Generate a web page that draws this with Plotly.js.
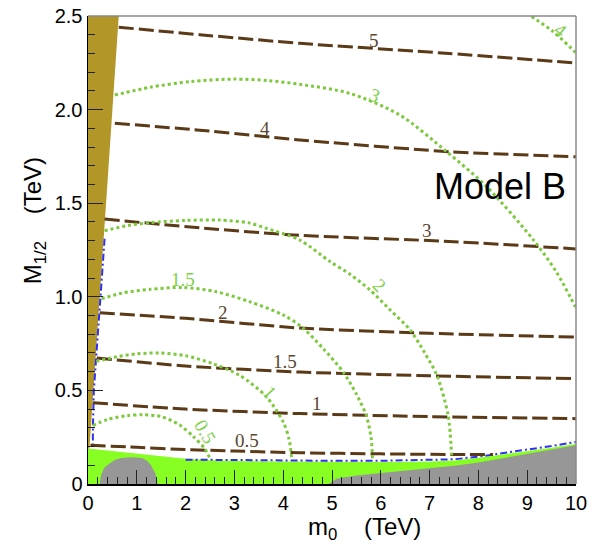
<!DOCTYPE html>
<html>
<head>
<meta charset="utf-8">
<script src="https://cdn.plot.ly/plotly-3.0.1.min.js"></script>
<style>
  html, body { margin: 0; padding: 0; background: #ffffff; }
  #chart { width: 600px; height: 544px; }
</style>
</head>
<body>
<div id="chart"></div>
<script>
// ---- excluded regions (m0, M1/2 in TeV) ----
const goldX = [0, 0, 0.63, 0.50, 0.36, 0.24, 0.10, 0.05, 0.03];
const goldY = [0.19, 2.5, 2.5, 2.0, 1.5, 1.0, 0.5, 0.25, 0.19];

const greenX = [0, 0, 0.5, 1, 1.5, 2, 2.5, 3, 4, 5, 6, 7, 7.5, 8, 8.5, 9, 9.5, 10, 10];
const greenY = [0, 0.19, 0.176, 0.163, 0.148, 0.135, 0.127, 0.123, 0.12, 0.118, 0.118, 0.12, 0.125, 0.14, 0.157, 0.174, 0.194, 0.215, 0];

const greyLeftX = [0.24, 0.27, 0.33, 0.44, 0.55, 0.65, 0.85, 1.0, 1.12, 1.22, 1.29, 1.35, 1.38, 1.41, 1.42];
const greyLeftY = [0, 0.05, 0.085, 0.11, 0.128, 0.137, 0.143, 0.142, 0.137, 0.122, 0.10, 0.075, 0.057, 0.02, 0];

const greyRightX = [4.93, 5.1, 5.5, 6, 6.5, 7, 7.5, 8, 8.5, 9, 9.5, 10, 10];
const greyRightY = [0, 0.03, 0.045, 0.058, 0.07, 0.083, 0.097, 0.115, 0.137, 0.16, 0.183, 0.207, 0];

// ---- boundary (blue dash-dot) ----
const blueEdgeX = [0.34, 0.26, 0.17, 0.12, 0.10, 0.10];
const blueEdgeY = [1.31, 1.0, 0.7, 0.5, 0.3, 0.2];
const blueFloorX = [2.0, 3, 4, 5, 6, 7, 7.5, 8, 8.5, 9, 9.5, 10];
const blueFloorY = [0.13, 0.127, 0.125, 0.124, 0.124, 0.127, 0.132, 0.146, 0.164, 0.183, 0.203, 0.225];

// ---- brown dashed contours ----
const brownLevels = ['0.5', '1', '1.5', '2', '3', '4', '5'];
const brown05X = [0.05, 1, 2, 3, 4.34, 6, 7.4, 8.3];
const brown05Y = [0.207, 0.196, 0.184, 0.176, 0.167, 0.161, 0.158, 0.157];
const brown1X = [0.10, 2, 4.34, 7, 10];
const brown1Y = [0.434, 0.40, 0.376, 0.36, 0.349];
const brown15X = [0.18, 2, 4.34, 7, 10];
const brown15Y = [0.673, 0.63, 0.598, 0.578, 0.563];
const brown2X = [0.24, 2, 4.34, 7, 10];
const brown2Y = [0.915, 0.885, 0.833, 0.805, 0.785];
const brown3X = [0.34, 2.3, 4.34, 7.4, 10];
const brown3Y = [1.415, 1.368, 1.328, 1.296, 1.256];
const brown4X = [0.55, 2.29, 4.34, 7.4, 10];
const brown4Y = [1.927, 1.89, 1.838, 1.775, 1.748];
const brown5X = [0.63, 2.29, 4.34, 7.4, 10];
const brown5Y = [2.44, 2.40, 2.354, 2.30, 2.249];
const brownLabelX = [3.25, 4.69, 4.03, 2.77, 6.94, 3.63, 5.87];
const brownLabelY = [0.231, 0.429, 0.656, 0.916, 1.353, 1.898, 2.367];

// ---- green dotted contours ----
const greenLevels = ['0.5', '1', '1.5', '2', '3', '4'];
const green05X = [0.10, 0.4, 0.8, 1.13, 1.5, 1.88, 2.16, 2.39, 2.5];
const green05Y = [0.313, 0.345, 0.365, 0.37, 0.36, 0.315, 0.253, 0.19, 0.135];
const green1X = [0.17, 0.6, 1.0, 1.47, 2.0, 2.56, 3.11, 3.66, 4.0, 4.12, 4.17];
const green1Y = [0.655, 0.68, 0.695, 0.70, 0.685, 0.643, 0.58, 0.465, 0.331, 0.24, 0.144];
const green15X = [0.28, 0.7, 1.27, 1.95, 2.63, 3.31, 4.0, 4.41, 4.82, 5.23, 5.5, 5.7, 5.8, 5.83];
const green15Y = [0.99, 1.02, 1.04, 1.05, 1.027, 0.974, 0.903, 0.832, 0.723, 0.598, 0.48, 0.367, 0.25, 0.135];
const green2X = [0.34, 0.8, 1.27, 2.0, 2.7, 3.3, 3.65, 4.34, 4.96, 5.37, 5.78, 6.19, 6.6, 6.9, 7.15, 7.38, 7.45];
const green2Y = [1.353, 1.38, 1.396, 1.408, 1.41, 1.395, 1.366, 1.303, 1.188, 1.12, 1.036, 0.93, 0.823, 0.70, 0.58, 0.367, 0.153];
const green3X = [0.55, 1.27, 2.1, 2.98, 3.7, 4.34, 5.36, 6.39, 7.35, 8.17, 9.13, 9.6, 9.97, 10];
const green3Y = [2.078, 2.119, 2.15, 2.163, 2.155, 2.135, 2.087, 1.971, 1.775, 1.588, 1.303, 1.132, 0.955, 0.94];
const green4X = [9.09, 9.53, 9.97, 10];
const green4Y = [2.497, 2.417, 2.31, 2.30];
const greenLabelX = [2.395, 3.73, 1.95, 5.98, 5.88, 9.70];
const greenLabelY = [0.279, 0.49, 1.095, 1.063, 2.078, 2.425];
const greenLabelAngle = [60, 48, 0, 45, 23, 38];

// ---- axis ticks ----
const yTickVals = [0, 0.5, 1.0, 1.5, 2.0, 2.5];
const yTickText = ['0', '0.5', '1.0', '1.5', '2.0', '2.5'];

const BROWN = '#5b3a17';
const DOTGREEN = '#7cc93c';

function region(x, y, color) {
  return { x: x, y: y, type: 'scatter', mode: 'lines', fill: 'toself',
           fillcolor: color, line: { width: 0, color: color }, hoverinfo: 'skip' };
}
function brownLine(x, y) {
  return { x: x, y: y, type: 'scatter', mode: 'lines',
           line: { color: BROWN, width: 3, dash: '15px,5px', shape: 'spline', smoothing: 0.6 } };
}
function dotLine(x, y) {
  return { x: x, y: y, type: 'scatter', mode: 'lines',
           line: { color: DOTGREEN, width: 3, dash: '3px,3px', shape: 'spline', smoothing: 0.8 } };
}
function blueLine(x, y) {
  return { x: x, y: y, type: 'scatter', mode: 'lines',
           line: { color: '#3030f0', width: 2, dash: '7px,3px,2px,3px' } };
}

const traces = [
  region(greenX, greenY, '#88ff22'),
  region(greyLeftX, greyLeftY, '#979797'),
  region(greyRightX, greyRightY, '#979797'),
  region(goldX, goldY, '#b39628'),
  blueLine(blueEdgeX, blueEdgeY),
  blueLine(blueFloorX, blueFloorY),
  brownLine(brown05X, brown05Y),
  brownLine(brown1X, brown1Y),
  brownLine(brown15X, brown15Y),
  brownLine(brown2X, brown2Y),
  brownLine(brown3X, brown3Y),
  brownLine(brown4X, brown4Y),
  brownLine(brown5X, brown5Y),
  dotLine(green05X, green05Y),
  dotLine(green1X, green1Y),
  dotLine(green15X, green15Y),
  dotLine(green2X, green2Y),
  dotLine(green3X, green3Y),
  dotLine(green4X, green4Y)
];

const annotations = [];
brownLevels.forEach((lv, i) => {
  annotations.push({ x: brownLabelX[i], y: brownLabelY[i], xref: 'x', yref: 'y',
    text: lv, showarrow: false, xanchor: 'center', yanchor: 'middle',
    font: { family: 'Liberation Serif, serif', size: 19, color: '#5a4632' } });
});
greenLevels.forEach((lv, i) => {
  annotations.push({ x: greenLabelX[i], y: greenLabelY[i], xref: 'x', yref: 'y',
    text: lv, showarrow: false, xanchor: 'center', yanchor: 'middle',
    textangle: greenLabelAngle[i],
    font: { family: 'Liberation Serif, serif', size: 19, color: '#7fd04a' } });
});
annotations.push({ x: 8.44, y: 1.59, xref: 'x', yref: 'y', text: 'Model B', showarrow: false,
  xanchor: 'center', yanchor: 'middle',
  font: { family: 'Liberation Sans, Arial, sans-serif', size: 36, color: '#000000' } });
annotations.push({ x: 0.567, y: 0, xref: 'paper', yref: 'paper', yshift: -44,
  text: 'm<sub>0</sub>\u00a0\u00a0\u00a0 (TeV)', showarrow: false,
  xanchor: 'center', yanchor: 'middle',
  font: { family: 'Liberation Sans, Arial, sans-serif', size: 24, color: '#000000' } });
annotations.push({ x: -0.108, y: 0.562, xref: 'paper', yref: 'paper',
  text: 'M<sub>1/2</sub>\u00a0\u00a0\u00a0 (TeV)', showarrow: false, textangle: -90,
  xanchor: 'center', yanchor: 'middle',
  font: { family: 'Liberation Sans, Arial, sans-serif', size: 24, color: '#000000' } });

const layout = {
  width: 600, height: 544,
  margin: { l: 88, r: 24, t: 16, b: 60, pad: 0 },
  paper_bgcolor: '#ffffff', plot_bgcolor: '#ffffff',
  showlegend: false,
  xaxis: {
    range: [0, 10], tickmode: 'linear', tick0: 0, dtick: 1,
    ticks: 'inside', ticklen: 14, tickwidth: 1, tickcolor: '#222222',
    minor: { tickmode: 'linear', tick0: 0, dtick: 0.2, ticks: 'inside', ticklen: 7, tickwidth: 1, tickcolor: '#222222', showgrid: false },
    showline: true, linecolor: '#000000', linewidth: 1.5,
    showgrid: false, zeroline: false, fixedrange: true,
    tickfont: { family: 'Liberation Sans, Arial, sans-serif', size: 20, color: '#000000' }
  },
  yaxis: {
    range: [0, 2.5], tickmode: 'array', tickvals: yTickVals, ticktext: yTickText,
    ticks: 'inside', ticklen: 15, tickwidth: 1, tickcolor: '#222222',
    minor: { tickmode: 'linear', tick0: 0, dtick: 0.1, ticks: 'inside', ticklen: 7, tickwidth: 1, tickcolor: '#222222', showgrid: false },
    showline: true, linecolor: '#000000', linewidth: 1.5,
    showgrid: false, zeroline: false, fixedrange: true,
    tickfont: { family: 'Liberation Sans, Arial, sans-serif', size: 20, color: '#000000' }
  },
  shapes: [
    { type: 'line', xref: 'paper', yref: 'paper', x0: 0, x1: 1, y0: 1, y1: 1, line: { color: '#8a8a8a', width: 1.5 } },
    { type: 'line', xref: 'paper', yref: 'paper', x0: 1, x1: 1, y0: 0, y1: 1, line: { color: '#8a8a8a', width: 1.5 } }
  ],
  annotations: annotations
};

Plotly.newPlot('chart', traces, layout, { staticPlot: true, displayModeBar: false });
</script>
</body>
</html>
